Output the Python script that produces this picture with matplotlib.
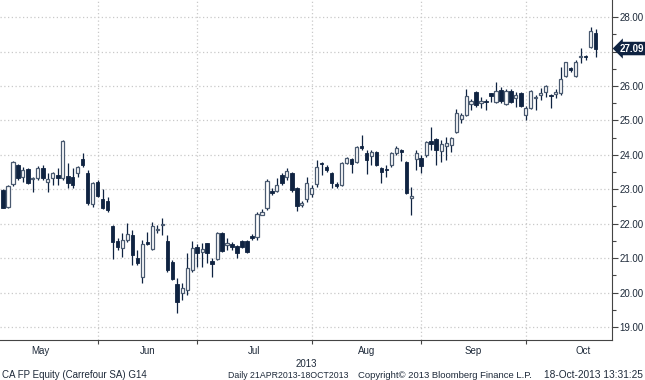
import pandas as pd
import matplotlib
matplotlib.use("Agg")
import matplotlib.pyplot as plt
import matplotlib.transforms as mtransforms

plt.rcParams["font.family"] = ["Liberation Sans", "DejaVu Sans"]

# daily OHLC, Carrefour (CA FP), 06-May-2013 .. 18-Oct-2013
opens = [22.98, 22.49, 23.16, 23.71, 23.36, 23.59, 23.30, 23.33, 23.62, 23.22,
         23.33, 23.42, 23.33, 23.39, 23.36, 23.48, 23.88, 23.48, 22.58, 23.22,
         22.72, 22.66, 21.94, 21.50, 21.30, 21.53, 21.67, 21.00, 20.45, 21.47,
         21.27, 21.83, 21.97, 21.50, 20.89, 20.25, 19.99, 20.08, 20.66, 21.33,
         21.18, 21.44, 20.92, 20.98, 21.73, 21.38, 21.41, 21.36, 21.50, 21.50,
         21.65, 21.62, 22.26, 22.46, 22.95, 22.95, 23.42, 23.36, 23.48, 23.04,
         22.55, 22.72, 22.87, 23.16, 23.77, 23.65, 23.48, 23.16, 23.13, 23.77,
         23.88, 23.80, 24.26, 24.06, 23.97, 24.09, 23.62, 23.59, 23.71, 24.06,
         24.15, 23.80, 22.76, 23.88, 23.91, 24.00, 24.41, 24.46, 24.12, 24.26,
         24.29, 24.67, 25.05, 25.16, 25.48, 25.83, 25.51, 25.57, 25.80, 25.54,
         25.89, 25.48, 25.86, 25.65, 25.80, 25.16, 25.36, 25.66, 25.74, 25.83,
         25.74, 25.77, 25.80, 26.29, 26.51, 26.29, 26.84, 26.87, 27.14, 27.54]
highs = [23.00, 23.12, 23.82, 23.74, 23.65, 23.62, 23.36, 23.68, 23.71, 23.48,
         23.51, 23.62, 24.44, 23.77, 23.62, 23.68, 24.06, 23.56, 23.22, 23.27,
         23.01, 22.78, 21.97, 21.59, 21.73, 22.03, 21.82, 21.24, 21.53, 21.76,
         22.05, 21.97, 22.17, 21.67, 20.95, 20.42, 20.28, 21.15, 21.50, 21.41,
         21.44, 21.45, 21.00, 21.76, 21.76, 21.59, 21.47, 21.38, 21.53, 21.53,
         21.70, 22.34, 22.43, 23.30, 23.04, 23.33, 23.48, 23.62, 23.51, 23.07,
         22.66, 23.36, 23.13, 23.85, 23.80, 23.71, 23.51, 23.22, 23.80, 23.94,
         23.91, 24.26, 24.58, 24.15, 24.15, 24.12, 23.65, 23.71, 24.09, 24.26,
         24.17, 23.83, 23.07, 24.15, 24.00, 24.41, 24.81, 24.49, 24.44, 24.52,
         24.52, 25.34, 25.22, 25.92, 25.63, 25.86, 25.69, 25.63, 25.80, 26.12,
         25.97, 25.92, 25.92, 25.83, 25.83, 25.42, 25.89, 25.74, 25.95, 26.03,
         25.76, 25.92, 26.55, 26.70, 26.55, 26.76, 27.10, 26.90, 27.71, 27.66]
lows = [22.45, 22.47, 23.10, 23.27, 23.22, 23.16, 22.92, 23.27, 23.27, 22.92,
        23.13, 23.13, 23.27, 23.04, 23.04, 23.36, 23.65, 22.55, 22.49, 22.78,
        22.44, 22.34, 20.98, 21.24, 21.03, 21.47, 20.80, 20.80, 20.28, 21.38,
        21.24, 21.73, 21.67, 20.60, 20.37, 19.41, 19.78, 19.93, 20.60, 20.75,
        20.75, 20.86, 20.45, 20.95, 21.18, 21.24, 21.24, 21.00, 21.30, 21.15,
        21.53, 21.53, 22.26, 22.40, 22.84, 22.92, 23.13, 23.27, 22.92, 22.37,
        22.49, 22.63, 22.78, 23.07, 23.42, 23.50, 23.04, 23.04, 23.10, 23.74,
        23.48, 23.77, 24.15, 23.45, 23.71, 23.68, 23.19, 23.36, 23.65, 24.00,
        23.83, 22.87, 22.26, 23.56, 23.48, 23.94, 24.15, 23.71, 23.80, 23.85,
        24.09, 24.64, 24.93, 25.13, 25.31, 25.40, 25.37, 25.31, 25.54, 25.51,
        25.51, 25.45, 25.51, 25.39, 25.39, 25.02, 25.33, 25.31, 25.60, 25.68,
        25.36, 25.65, 25.74, 26.26, 26.40, 26.26, 26.66, 26.76, 27.11, 26.84]
closes = [22.46, 23.10, 23.80, 23.33, 23.56, 23.19, 23.33, 23.62, 23.33, 23.30,
          23.48, 23.33, 24.41, 23.19, 23.13, 23.65, 23.71, 22.60, 23.19, 22.81,
          22.46, 22.40, 21.47, 21.33, 21.53, 21.70, 21.09, 20.86, 21.41, 21.41,
          21.94, 21.86, 22.00, 20.66, 20.40, 19.73, 20.14, 20.72, 21.30, 21.15,
          21.27, 21.15, 20.83, 21.73, 21.21, 21.44, 21.33, 21.15, 21.33, 21.18,
          21.59, 22.29, 22.34, 23.24, 22.90, 23.13, 23.19, 23.53, 22.98, 22.52,
          22.60, 23.19, 23.04, 23.65, 23.74, 23.56, 23.19, 23.10, 23.77, 23.91,
          23.74, 24.23, 24.20, 23.85, 24.09, 23.71, 23.51, 23.56, 24.06, 24.20,
          24.09, 22.90, 22.80, 24.06, 23.68, 24.38, 24.32, 24.15, 24.32, 24.35,
          24.49, 25.22, 25.16, 25.72, 25.57, 25.45, 25.57, 25.54, 25.71, 25.86,
          25.57, 25.86, 25.54, 25.74, 25.42, 25.36, 25.86, 25.69, 25.80, 26.00,
          25.71, 25.83, 26.20, 26.69, 26.48, 26.69, 26.87, 26.84, 27.60, 27.09]

dates = pd.bdate_range("2013-05-06", "2013-10-18")
months = ["May", "Jun", "Jul", "Aug", "Sep", "Oct"]
y_ticks = [19, 20, 21, 22, 23, 24, 25, 26, 27, 28]
last_price = closes[-1]

navy = "#0f2341"
edge_up = "#4a5a70"
grid_c = "#c9c9c9"
txt_c = "#1e2a3a"

df = pd.DataFrame({"open": opens, "high": highs, "low": lows, "close": closes}, index=dates)
df["x"] = range(len(df))

# month boundaries / label centres in trading-day units
full = pd.bdate_range("2013-04-01", "2013-11-29")
pos = pd.Series(range(len(full)), index=full) - list(full).index(dates[0])
month_end = pos.groupby(pos.index.to_period("M")).max()
bounds = [month_end[p] for p in month_end.index if "2013-05" <= str(p) <= "2013-09"]
centres = []
for p in month_end.index:
    if "2013-05" <= str(p) <= "2013-10":
        centres.append((month_end[p - 1] + month_end[p]) / 2)

fig = plt.figure(figsize=(6.45, 3.8), dpi=100)
ax = fig.add_axes([0, 40 / 380, 612 / 645, 340 / 380])

up = df[df["close"] >= df["open"]]
down = df[df["close"] < df["open"]]

ax.vlines(df["x"], df["low"], df["high"], color=navy, lw=0.9, zorder=2)
body_up = (up["close"] - up["open"]).clip(lower=0.025)
body_dn = (down["open"] - down["close"]).clip(lower=0.025)
ax.bar(up["x"], body_up, bottom=up["open"], width=0.64, color="white",
       edgecolor=edge_up, linewidth=0.9, zorder=3)
ax.bar(down["x"], body_dn, bottom=down["close"], width=0.72, color=navy,
       edgecolor=navy, linewidth=0.6, zorder=3)

ax.set_xlim(-0.6, 122.3)
ax.set_ylim(18.62, 28.5)

# grid
for y in y_ticks:
    ax.axhline(y, color=grid_c, lw=0.9, ls=(0, (1, 2)), zorder=1)
for b in bounds:
    ax.axvline(b, color=grid_c, lw=0.9, ls=(0, (1, 2)), zorder=1)

for s in ["top", "left"]:
    ax.spines[s].set_visible(False)
for s in ["right", "bottom"]:
    ax.spines[s].set_color("#444444")
    ax.spines[s].set_linewidth(0.8)

# the 27.00 label sits under the last-price flag
ax.yaxis.tick_right()
ax.set_yticks(y_ticks)
ax.set_yticklabels(["" if v == round(last_price) else f"{v:.2f}" for v in y_ticks])
ax.set_yticks([v + 0.5 for v in y_ticks[:-1]], minor=True)
ax.tick_params(axis="y", which="major", length=4, width=0.8, color="#444444",
               labelsize=7, pad=1.5, labelcolor=txt_c)
ax.tick_params(axis="y", which="minor", length=3, width=0.8, color="#444444")

ax.set_xticks(bounds)
ax.set_xticklabels([])
ax.set_xticks(centres, minor=True)
ax.set_xticklabels(months, minor=True)
ax.tick_params(axis="x", which="major", length=3, width=0.8, color="#444444")
ax.tick_params(axis="x", which="minor", length=0, labelsize=7, pad=4,
               labelcolor=txt_c)

# last price flag
trans = mtransforms.blended_transform_factory(ax.transAxes, ax.transData)
ax.text(1.013, last_price, f"{last_price:.2f}", transform=trans, ha="left", va="center",
        fontsize=7, color="white", fontweight="bold", clip_on=False, zorder=5,
        bbox=dict(boxstyle="larrow,pad=0.18", fc=navy, ec="none"))

ax.text(0.5, -0.07, "2013", transform=ax.transAxes, ha="center", va="center",
        fontsize=7, color=txt_c)

fy = 1 - 375 / 380
fig.text(2 / 645, fy, "CA FP Equity (Carrefour SA) G14", fontsize=7, va="center", color=txt_c)
fig.text(228 / 645, fy, "Daily 21APR2013-18OCT2013", fontsize=6.3, va="center", color=txt_c)
fig.text(358 / 645, fy, "Copyright\u00a9 2013 Bloomberg Finance L.P.", fontsize=6.8, va="center", color=txt_c)
fig.text(643 / 645, fy, "18-Oct-2013 13:31:25", fontsize=7.3, va="center", ha="right", color=txt_c)

fig.savefig("out.png", dpi=100)
